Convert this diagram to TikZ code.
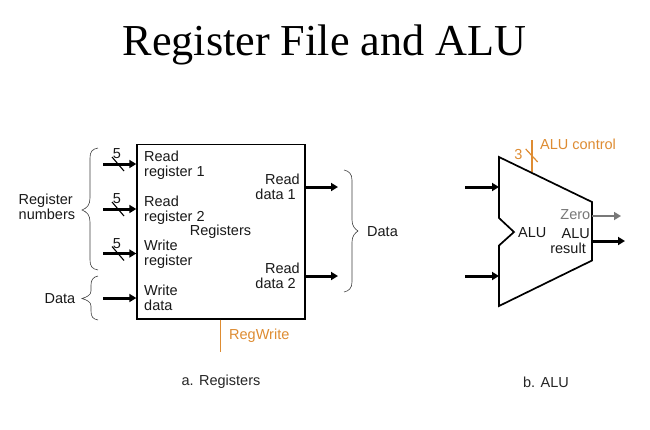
\documentclass[tikz,border=0pt]{standalone}
\usepackage{fontspec}
\setmainfont{Liberation Sans}
\newfontfamily\titlefont{Liberation Serif}
\usetikzlibrary{arrows.meta}
\definecolor{ctrl}{RGB}{222,140,50}
\definecolor{zerogray}{RGB}{120,120,120}
\tikzset{
  x=1pt,y=-1pt,
  bus/.style={line width=3pt,-{Triangle[length=7pt,width=8pt]}},
  graybus/.style={line width=1.7pt,zerogray,-{Triangle[length=7pt,width=8pt]}},
  tick/.style={line width=1.1pt},
  brace/.style={line width=0.6pt,black!75},
  lab/.style={font=\fontsize{14.5}{15}\selectfont,align=left,inner sep=0pt,text=black!90},
  ctl/.style={lab,text=ctrl},
  shape box/.style={draw,line width=1.7pt}
}
\begin{document}
\begin{tikzpicture}
\useasboundingbox (0,0) rectangle (650,429);
\fill[white] (0,0) rectangle (650,429);
\node[font=\fontsize{44.2}{45}\selectfont\titlefont,inner sep=0pt] (title) at (324.5,45) {Register File and ALU};

% Registers box
\node[shape box,minimum width=168pt,minimum height=174.5pt,inner sep=0pt,anchor=north west] (regs) at (136.3,143.5) {};
\node[lab,anchor=center] (regname) at (220.5,232) {Registers};

% register labels
\node[lab,anchor=north west] (rr1) at (144,151) {Read\\register 1};
\node[lab,anchor=north west] (rr2) at (144,196) {Read\\register 2};
\node[lab,anchor=north west] (wr) at (144,240) {Write\\register};
\node[lab,anchor=north west] (wd) at (144,285) {Write\\data};
\node[lab,anchor=north east,align=right] (rd1) at (300,174) {Read\\data 1\hspace*{4pt}};
\node[lab,anchor=north east,align=right] (rd2) at (300,263) {Read\\data 2\hspace*{4pt}};

% input ends
\coordinate (i1) at (103,164);
\coordinate (i2) at (103,209);
\coordinate (i3) at (103,253.5);
\coordinate (i4) at (103,298);
\coordinate (o1) at (338,187);
\coordinate (o2) at (338,276);
\draw[bus] (i1) -- (regs.west |- i1);
\draw[bus] (i2) -- (regs.west |- i2);
\draw[bus] (i3) -- (regs.west |- i3);
\draw[bus] (i4) -- (regs.west |- i4);
\draw[bus] (regs.east |- o1) -- (o1);
\draw[bus] (regs.east |- o2) -- (o2);

% bus widths
\foreach \n/\y in {a/164,b/209,c/253.5}{
  \draw[tick] (112,\y-7) -- (124,\y+7);
}
\node[lab] (n1) at (117,154) {5};
\node[lab] (n2) at (117,198.5) {5};
\node[lab] (n3) at (117,243.5) {5};

% braces
\draw[brace] (98,148) .. controls (92,149) and (90,152) .. (90,158) -- (90,198) .. controls (90,205) and (87,208) .. (82,210)
  .. controls (87,212) and (90,215) .. (90,222) -- (90,260) .. controls (90,266) and (92,269) .. (98,270);
\draw[brace] (98,276) .. controls (93,277) and (91,280) .. (91,285) -- (91,291) .. controls (91,295) and (87,297) .. (82,298.5)
  .. controls (87,300) and (91,302) .. (91,306) -- (91,311) .. controls (91,317) and (93,319) .. (98,320);
\draw[brace] (344,170) .. controls (349,171) and (352,174) .. (352,180) -- (352,220) .. controls (352,226) and (355,229) .. (358,231)
  .. controls (355,233) and (352,236) .. (352,242) -- (352,282) .. controls (352,288) and (349,291) .. (344,292);

\node[lab,anchor=north west] (regnums) at (18.5,194) {Register\\numbers};
\node[lab,anchor=center] (dataL) at (60,299) {Data};
\node[lab,anchor=center] (dataR) at (382.5,232) {Data};

% RegWrite
\coordinate (rwend) at (220.5,352);
\draw[ctrl,line width=1.7pt] (regs.south -| rwend) -- (rwend);
\node[ctl,anchor=west] (rw) at (229,335.5) {RegWrite};

% ALU
\coordinate (a1) at (499,157);
\coordinate (a2) at (592,202);
\coordinate (a3) at (592,260.5);
\coordinate (a4) at (499,306);
\coordinate (a5) at (499,245.5);
\coordinate (a6) at (514,232);
\coordinate (a7) at (499,218);
\draw[ctrl,line width=2.4pt] (531.7,140) coordinate (c1) -- (531.7,172) coordinate (c2);
\draw[ctrl,line width=1.2pt] (525.7,149) -- (537.7,162);
\draw[line width=1.7pt,line join=miter] (a1) -- (a2) -- (a3) -- (a4) -- (a5) -- (a6) -- (a7) -- cycle;
\node[ctl,anchor=west] (ctlab) at (540,144) {ALU control};
\node[ctl] (three) at (518.5,155) {3};
\node[lab,anchor=west] (alun) at (518,232.5) {ALU};
\node[lab,anchor=east,text=zerogray] (zero) at (590.5,215) {Zero};
\node[lab,anchor=north east,align=right] (res) at (590,228) {ALU\\result\hspace*{4pt}};

\coordinate (b1) at (465,187);
\coordinate (b2) at (465,276);
\coordinate (z) at (621,216);
\coordinate (r) at (625,241);
\coordinate (zs) at (592,216);
\coordinate (rs) at (592,241);
\draw[bus] (b1) -- (a1 |- b1);
\draw[bus] (b2) -- (a1 |- b2);
\draw[graybus] (zs) -- (z);
\draw[bus] (rs) -- (r);

\node[font=\fontsize{14.5}{15}\selectfont,inner sep=0pt,text=black!85] (capa) at (221,382) {a. Registers};
\node[font=\fontsize{14.5}{15}\selectfont,inner sep=0pt,text=black!85] (capb) at (546,382) {b. ALU};
\end{tikzpicture}
\end{document}
